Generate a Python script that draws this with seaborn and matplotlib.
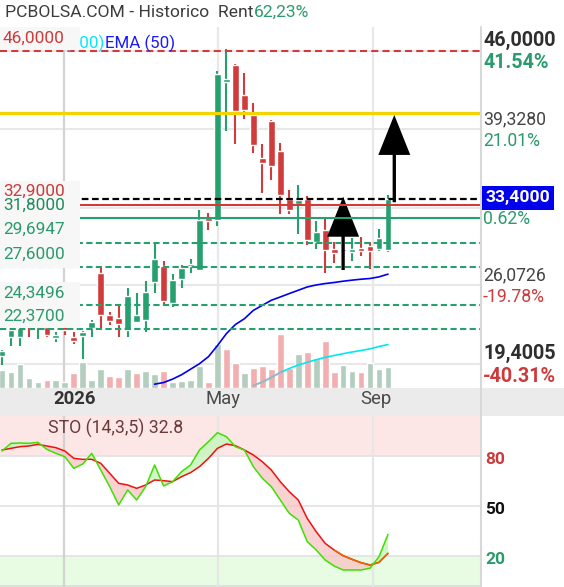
import matplotlib
matplotlib.use("Agg")
import matplotlib.pyplot as plt
import matplotlib.transforms as mtransforms
from matplotlib.patches import Rectangle
import numpy as np
import pandas as pd
import seaborn as sns

# ---------------- data ----------------
week = list(range(44))
open_ = [20.08, 21.65, 21.65, 23.00, 22.50, 22.50, 21.59, 22.60, 21.65, 21.73,
         22.42, 27.07, 23.50, 23.31, 22.30, 22.93, 23.13, 26.35, 27.69, 24.55,
         26.56, 27.66, 27.35, 31.69, 31.63, 43.37, 44.74, 42.24, 40.53, 36.85,
         40.04, 37.45, 33.43, 33.00, 33.40, 29.72, 30.77, 29.15, 29.10, 28.92,
         29.12, 29.40, 29.12, 29.06]
high = [20.55, 22.50, 22.55, 23.20, 23.20, 22.70, 22.07, 22.80, 22.07, 22.20,
        23.13, 27.50, 23.78, 24.27, 25.79, 25.41, 26.41, 29.64, 28.12, 27.01,
        27.78, 28.27, 32.42, 32.20, 44.26, 46.17, 44.83, 44.12, 41.55, 38.04,
        40.12, 38.13, 34.19, 34.62, 33.62, 31.54, 31.71, 29.77, 29.60, 30.09,
        30.20, 29.77, 30.86, 33.71]
low = [19.31, 20.94, 20.94, 21.65, 21.53, 21.65, 21.22, 21.88, 21.11, 19.82,
       21.65, 22.42, 22.71, 21.65, 21.71, 22.84, 22.07, 25.41, 24.36, 24.21,
       25.87, 27.12, 27.29, 30.77, 31.14, 39.18, 38.04, 40.18, 37.27, 33.91,
       34.99, 32.14, 32.14, 30.43, 29.49, 29.15, 27.12, 27.98, 28.30, 28.15,
       28.55, 27.44, 29.00, 28.92]
close = [20.51, 22.30, 22.40, 22.60, 23.00, 21.85, 21.88, 22.30, 21.30, 22.13,
         22.93, 23.56, 23.07, 22.76, 25.13, 23.50, 25.47, 28.27, 24.73, 26.50,
         27.55, 27.78, 31.63, 31.52, 44.03, 43.60, 40.89, 40.95, 37.98, 36.42,
         36.19, 33.71, 32.42, 33.34, 29.92, 30.58, 29.06, 28.83, 28.95, 29.12,
         28.98, 29.00, 30.11, 33.40]
volume = [177, 157, 237, 97, 57, 77, 77, 57, 147, 257, 77, 187, 117, 107, 187,
          147, 167, 137, 167, 57, 67, 77, 217, 57, 437, 387, 247, 147, 197, 217,
          187, 537, 197, 337, 357, 297, 467, 157, 227, 167, 157, 247, 187, 207]
ema50_start = 17
ema50 = [17.66, 17.80, 18.09, 18.46, 18.93, 19.40, 20.00, 20.94, 21.96, 22.73,
         23.22, 23.93, 24.36, 24.79, 25.07, 25.36, 25.64, 25.92, 26.09, 26.21,
         26.30, 26.41, 26.50, 26.58, 26.64, 26.78, 27.01]
volma_start = 28
vol_ma = [25, 60, 105, 155, 195, 230, 257, 283, 307, 325, 343, 360, 375, 392,
          415, 435]
sto_k = [82.8, 87.4, 87.6, 87.4, 88.0, 83.8, 81.4, 79.4, 72.4, 75.0, 81.4, 71.4,
         61.4, 50.4, 59.4, 53.4, 61.4, 74.4, 61.8, 64.4, 70.4, 74.4, 83.4, 88.4,
         93.8, 91.4, 85.4, 83.4, 73.4, 66.4, 61.4, 53.4, 45.4, 41.4, 28.4, 23.4,
         17.4, 13.8, 11.4, 11.4, 11.4, 12.5, 19.4, 32.8]
sto_d = [83.4, 84.4, 85.4, 85.8, 86.8, 85.8, 84.8, 82.8, 78.4, 77.8, 77.8, 75.4,
         69.4, 63.4, 62.4, 60.4, 62.4, 65.4, 65.0, 64.4, 67.4, 69.8, 73.4, 78.4,
         84.4, 87.0, 86.0, 83.4, 80.4, 76.4, 71.4, 64.4, 58.4, 53.4, 42.4, 34.4,
         27.4, 23.4, 20.0, 17.8, 15.8, 14.4, 16.0, 21.4]

grid_levels = [46.0, 39.328, 32.63, 26.0726, 19.4005]
level_46 = 46.0
level_yellow = 40.68
level_last = 33.4
level_red = 32.9
level_green = 31.8
levels_green_dashed_over = [29.6947, 27.6, 22.37]
levels_green_dashed_under = [24.3496]
arrow_week = [38.0, 43.7]
arrow_from = [27.36, 33.12]
arrow_to = [33.59, 40.54]

left_labels = ["46,0000", "32,9000", "31,8000", "29,6947", "27,6000", "24,3496", "22,3700"]
right_labels = ["46,0000", "41.54%", "39,3280", "21.01%", "0.62%", "26,0726",
                "-19.78%", "19,4005", "-40.31%"]
last_label = "33,4000"
month_labels = ["2026", "May", "Sep"]
month_grid = [6.91, 24.06, 41.33]
sto_levels = [80, 50, 20]

# ---------------- style ----------------
sns.set_style("white")
plt.rcParams['font.family'] = ['Roboto', 'DejaVu Sans']

W, H = 564, 587
GREEN = '#27a06f'
RED = '#d03c3c'
VGREEN = '#b3cdbf'
VRED = '#f3afaf'
TXT_GREEN = '#2b9a6c'
TXT_RED = '#cc3b3b'

def fx(px):
    return px / W

def fy(py):
    return 1 - py / H

X0, DX = 2.0, 8.977
PANEL_R = 481
xlim = (-X0 / DX, (PANEL_R - X0) / DX)

fig = plt.figure(figsize=(W / 100, H / 100), dpi=100)
fig.patch.set_facecolor('white')

rect_price = [0, fy(388), fx(PANEL_R), (388 - 27) / H]
ax_vol = fig.add_axes(rect_price)
ax = fig.add_axes(rect_price)
ax.set_facecolor('none')
ax_vol.set_facecolor('white')
for a in (ax, ax_vol):
    a.set_xlim(*xlim)
    a.set_xticks([])
    a.set_yticks([])
    for s in a.spines.values():
        s.set_visible(False)
ax.set_ylim(17.335, 48.01)
ax_vol.set_ylim(0, 3610)

# grid (in volume axes, under bars)
blend = mtransforms.blended_transform_factory(ax_vol.transAxes, ax.transData)
for g in grid_levels:
    ax_vol.plot([0, 1], [g, g], transform=blend, color='#e8e8e8', lw=1.5, zorder=0)
for k, gx in enumerate(month_grid):
    ax_vol.axvline(gx, color='#d2d2d2' if k == 0 else '#e8e8e8', lw=1.6, zorder=0)

# volume
df = pd.DataFrame({'week': week, 'open': open_, 'high': high, 'low': low,
                   'close': close, 'volume': volume})
vol_up = df['close'].diff().fillna(1) >= 0
ax_vol.bar(df['week'], df['volume'], width=0.75,
           color=np.where(vol_up, VGREEN, VRED), zorder=1)
vm_weeks = list(range(volma_start, volma_start + len(vol_ma)))
sns.lineplot(x=vm_weeks, y=vol_ma, ax=ax_vol, color='#00e8f0', lw=1.2, legend=False, zorder=2)
sns.lineplot(x=vm_weeks[:4], y=vol_ma[:4], ax=ax_vol, color='#a8b4c0', lw=1.2, legend=False, zorder=2.1)

# candles
up = df['close'] >= df['open']
cols = np.where(up, GREEN, RED)
ax.vlines(df['week'], df['low'], df['high'], colors=cols, lw=1.5, zorder=3)
body_lo = np.minimum(df['open'], df['close'])
body_h = np.maximum(np.abs(df['close'] - df['open']), 0.22)
ax.bar(df['week'], body_h, bottom=body_lo, width=0.75, color=cols, zorder=3.1)

# EMA 50
ema_weeks = list(range(ema50_start, ema50_start + len(ema50)))
sns.lineplot(x=ema_weeks, y=ema50, ax=ax, color='#0000ee', lw=1.2, legend=False, zorder=3.3)

# arrows
for xw, y0, y1 in zip(arrow_week, arrow_from, arrow_to):
    ax.arrow(xw, y0, 0, y1 - y0, width=0.37, head_width=3.56, head_length=3.4,
             length_includes_head=True, fc='black', ec='black', lw=0, zorder=3.2)

# lines under label boxes
ax.axhline(level_red, color=RED, lw=1.5, zorder=3.5)
for lv in levels_green_dashed_under:
    ax.axhline(lv, color=GREEN, lw=1.5, ls=(0, (3, 1.6)), zorder=3.5)

# label boxes
for (y0, y1) in [(27, 50), (181, 268), (282, 328)]:
    fig.patches.append(Rectangle((0, fy(y1)), fx(80), (y1 - y0) / H,
                                 transform=fig.transFigure, facecolor='#f7f7f7',
                                 edgecolor='none', zorder=4))

# lines over boxes
ax.axhline(level_yellow, color='#f2d400', lw=2.3, zorder=6)
ax.axhline(level_46, color=RED, lw=1.5, ls=(0, (3.4, 2)), zorder=6)
ax.axhline(level_last, color='black', lw=1.6, ls=(0, (3, 1.6)), zorder=6)
ax.axhline(level_green, color=GREEN, lw=1.5, zorder=6)
for lv in levels_green_dashed_over:
    ax.axhline(lv, color=GREEN, lw=1.5, ls=(0, (3, 1.6)), zorder=6)

# separator lines
fig.add_artist(plt.Line2D([fx(PANEL_R), fx(PANEL_R)], [fy(27), fy(587)],
                          color='#d8d8d8', lw=1.5, transform=fig.transFigure))

# date band
ax_band = fig.add_axes([0, fy(416), 1, 28 / H])
ax_band.set_facecolor('#ebebeb')
ax_band.set_xticks([]); ax_band.set_yticks([])
for s in ax_band.spines.values():
    s.set_visible(False)
for lab, xc, wt in zip(month_labels, [75, 223, 375.5], ['bold', 'normal', 'normal']):
    fig.text(fx(xc), fy(399.5), lab, ha='center', va='center', fontsize=13.3,
             fontweight=wt, color='#333333' if wt == 'bold' else '#4a4a4a')

# stochastic panel
ax_sto = fig.add_axes([0, 0, fx(PANEL_R), (587 - 416) / H])
ax_sto.set_xlim(*xlim)
ax_sto.set_ylim(1.2, 103.8)
ax_sto.set_xticks([]); ax_sto.set_yticks([])
for s in ax_sto.spines.values():
    s.set_visible(False)
ax_sto.axhspan(80, 103.8, color='#fde6e6', lw=0, zorder=0)
ax_sto.axhspan(1.2, 20, color='#e7fce3', lw=0, zorder=0)
for lv in sto_levels:
    ax_sto.axhline(lv, color='#e2e2e2', lw=1.2, zorder=0.5)
ax_sto.axhline(1.6, color='#dcdcdc', lw=1.2, zorder=0.5)
for k, gx in enumerate(month_grid):
    ax_sto.axvline(gx, color='#d2d2d2' if k == 0 else '#e6e6e6', lw=1.6, zorder=0.5)
kk = np.array(sto_k); dd = np.array(sto_d); ww = np.array(week)
ax_sto.fill_between(ww, kk, dd, where=kk >= dd, interpolate=True, color='#ccf5c2', lw=0, alpha=0.9, zorder=1)
ax_sto.fill_between(ww, kk, dd, where=kk < dd, interpolate=True, color='#f7c4c4', lw=0, alpha=0.75, zorder=1)
sns.lineplot(x=week, y=sto_d, ax=ax_sto, color='#ee1111', lw=1.1, legend=False, zorder=2)
sns.lineplot(x=week[37:], y=sto_d[37:], ax=ax_sto, color='#f06400', lw=1.1, legend=False, zorder=2.1)
sns.lineplot(x=week, y=sto_k, ax=ax_sto, color='#3ee000', lw=1.1, legend=False, zorder=3)
ax_sto.set_xlabel(''); ax_sto.set_ylabel('')
ax.set_xlabel(''); ax.set_ylabel(''); ax_vol.set_xlabel(''); ax_vol.set_ylabel('')

fig.text(fx(48), fy(428), "STO (14,3,5) 32.8", ha='left', va='center',
         fontsize=12.7, color='#6b3a3a')
for lab, yc, c in zip(["80", "50", "20"], [460, 510, 560], [TXT_RED, '#111111', TXT_GREEN]):
    fig.text(fx(485), fy(yc), lab, ha='left', va='center', fontsize=12.5,
             fontweight='bold', color=c)

# title
fig.text(fx(5), fy(12.5), "PCBOLSA.COM - Historico  Rent", ha='left', va='center',
         fontsize=12.6, color='#3c3c3c')
fig.text(fx(254), fy(12.5), "62,23%", ha='left', va='center', fontsize=12.6, color=TXT_GREEN)

# EMA legend (the moving-average label is partly hidden by the 46,0000 box)
fig.text(fx(105), fy(43.5), "(100)", ha='right', va='center', fontsize=12.2,
         color='#00e8ff', zorder=3)
fig.text(fx(105), fy(43.5), "EMA (50)", ha='left', va='center', fontsize=12.2,
         color='#1a1aff', zorder=5)

# left labels
for lab, yc in zip(left_labels, [38.5, 191, 205.7, 229.7, 254.7, 293.7, 316.7]):
    c = TXT_RED if lab in ("46,0000", "32,9000") else ('#1f8a5c' if lab == "31,8000" else TXT_GREEN)
    fig.text(fx(3), fy(yc), lab, ha='left', va='center', fontsize=12.4, color=c, zorder=5)

# right labels
r_y = [40.7, 62.7, 119, 141, 219.3, 275, 296.7, 353.3, 376]
r_w = ['bold', 'bold', 'normal', 'normal', 'normal', 'normal', 'normal', 'bold', 'bold']
for lab, yc, wt in zip(right_labels, r_y, r_w):
    if lab.startswith('-'):
        c = TXT_RED
    elif lab.endswith('%'):
        c = TXT_GREEN
    else:
        c = '#2e2e2e' if wt == 'bold' else '#444444'
    fig.text(fx(483), fy(yc), lab, ha='left', va='center',
             fontsize=14.2 if wt == 'bold' else 12.7,
             fontweight=wt, color=c)
fig.patches.append(Rectangle((fx(481.7), fy(210)), fx(554 - 481.7), (210 - 185.7) / H,
                             transform=fig.transFigure, facecolor='#0000ee',
                             edgecolor='none', zorder=4))
fig.text(fx(485), fy(197.5), last_label, ha='left', va='center', fontsize=12.6,
         fontweight='bold', color='white', zorder=5)

fig.savefig("out.png", dpi=100, facecolor='white')
